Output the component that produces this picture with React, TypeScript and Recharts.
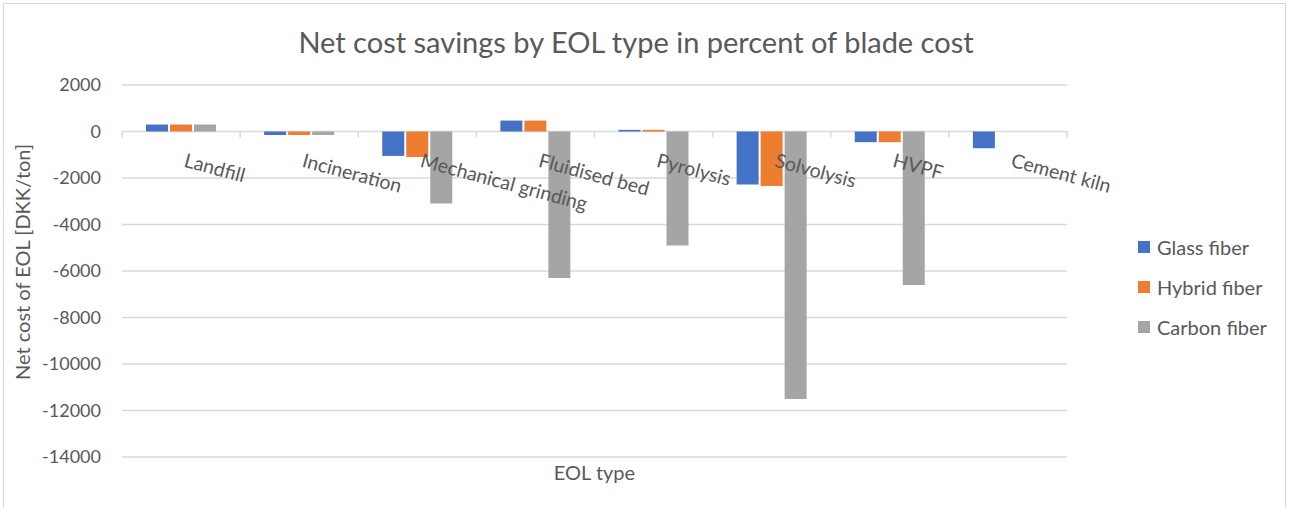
import { BarChart, Bar, XAxis, YAxis, CartesianGrid, Legend, Label } from "recharts";

const categories = [
  "Landfill",
  "Incineration",
  "Mechanical grinding",
  "Fluidised bed",
  "Pyrolysis",
  "Solvolysis",
  "HVPF",
  "Cement kiln",
];
const glassFiber = [300, -150, -1050, 470, 70, -2280, -460, -720];
const hybridFiber = [300, -150, -1100, 470, 70, -2340, -460, 0];
const carbonFiber = [300, -150, -3100, -6300, -4900, -11500, -6600, 0];
const yTicks = [2000, 0, -2000, -4000, -6000, -8000, -10000, -12000, -14000];

const seriesNames = ["Glass fiber", "Hybrid fiber", "Carbon fiber"];
const colors = ["#4472C4", "#ED7D31", "#A5A5A5"];

const data = categories.map((name, i) => ({
  name,
  glass: glassFiber[i],
  hybrid: hybridFiber[i],
  carbon: carbonFiber[i],
}));

const FONT = "Lato, 'Liberation Sans', sans-serif";
const TEXT = "#595959";
const GRID = "#D9D9D9";

const W = 1290;
const H = 508;
const M = { top: 85, right: 223, left: 0, bottom: 0 };
const Y_AXIS_W = 122;
const X_AXIS_H = 51;
const plotTop = M.top;
const plotH = H - M.top - M.bottom - X_AXIS_H;
const plotW = W - M.left - M.right - Y_AXIS_W;
const yMax = yTicks[0];
const yMin = yTicks[yTicks.length - 1];
const zeroY = plotTop + ((yMax - 0) / (yMax - yMin)) * plotH;
const band = plotW / categories.length;

const CategoryTick = (props: any) => {
  const { x, payload, index } = props;
  const left = x - band / 2;
  return (
    <g>
      <line x1={left} x2={left} y1={zeroY} y2={zeroY + 6} stroke={GRID} strokeWidth={1.5} />
      {index === categories.length - 1 && (
        <line x1={left + band} x2={left + band} y1={zeroY} y2={zeroY + 6} stroke={GRID} strokeWidth={1.5} />
      )}
      <text
        x={x + 2}
        y={zeroY + 35}
        transform={`rotate(15, ${x + 2}, ${zeroY + 35})`}
        textAnchor="start"
        fill={TEXT}
        fontSize={19.5}
        fontFamily={FONT}
      >
        {payload.value}
      </text>
    </g>
  );
};

const LegendBox = () => (
  <div style={{ fontFamily: FONT, fontSize: 20, color: TEXT }}>
    {seriesNames.map((s, i) => (
      <div key={s} style={{ height: 40, display: "flex", alignItems: "center" }}>
        <span style={{ width: 12, height: 12, background: colors[i], marginRight: 7, display: "inline-block" }} />
        <span>{s}</span>
      </div>
    ))}
  </div>
);

const App = () => {
  return (
    <div
      style={{
        position: "absolute",
        left: 0,
        top: 0,
        width: W,
        height: H,
        overflow: "hidden",
        background: "#fff",
      }}
    >
      <div
        style={{
          position: "absolute",
          left: 3,
          top: 3,
          width: 1281,
          height: 560,
          border: `1px solid ${GRID}`,
        }}
      />
      <div
        style={{
          position: "absolute",
          left: 0,
          top: 24,
          width: 1272,
          textAlign: "center",
          fontFamily: FONT,
          fontSize: 29,
          lineHeight: "35px",
          color: TEXT,
        }}
      >
        Net cost savings by EOL type in percent of blade cost
      </div>
      <div style={{ position: "absolute", left: 0, top: 0 }}>
        <BarChart width={W} height={H} data={data} margin={M} barGap={2} barSize={22}>
          <CartesianGrid vertical={false} stroke={GRID} strokeWidth={1.5} />
          <XAxis
            dataKey="name"
            height={X_AXIS_H}
            axisLine={false}
            tickLine={false}
            interval={0}
            tick={<CategoryTick />}
          >
            <Label
              content={(p: any) => {
                const vb = p.viewBox;
                return (
                  <text
                    x={vb.x + vb.width / 2}
                    y={vb.y + 23}
                    textAnchor="middle"
                    fill={TEXT}
                    fontSize={20}
                    fontFamily={FONT}
                  >
                    EOL type
                  </text>
                );
              }}
            />
          </XAxis>
          <YAxis
            width={Y_AXIS_W}
            domain={[yMin, yMax]}
            ticks={yTicks}
            interval={0}
            axisLine={false}
            tickLine={false}
            tickSize={0}
            tickMargin={21}
            tick={{ fill: TEXT, fontSize: 18, fontFamily: FONT }}
          >
            <Label
              content={(p: any) => {
                const vb = p.viewBox;
                const cx = vb.x + 30;
                const cy = vb.y + vb.height / 2 - 9;
                return (
                  <text
                    x={cx}
                    y={cy}
                    transform={`rotate(-90, ${cx}, ${cy})`}
                    textAnchor="middle"
                    fill={TEXT}
                    fontSize={20}
                    fontFamily={FONT}
                  >
                    Net cost of EOL [DKK/ton]
                  </text>
                );
              }}
            />
          </YAxis>
          <Legend
            layout="vertical"
            verticalAlign="middle"
            align="center"
            wrapperStyle={{ position: "absolute", left: 1138, top: 227, width: 150 }}
            content={<LegendBox />}
          />
          <Bar dataKey="glass" name={seriesNames[0]} fill={colors[0]} isAnimationActive={false} />
          <Bar dataKey="hybrid" name={seriesNames[1]} fill={colors[1]} isAnimationActive={false} />
          <Bar dataKey="carbon" name={seriesNames[2]} fill={colors[2]} isAnimationActive={false} />
        </BarChart>
      </div>
    </div>
  );
};

export default App;
